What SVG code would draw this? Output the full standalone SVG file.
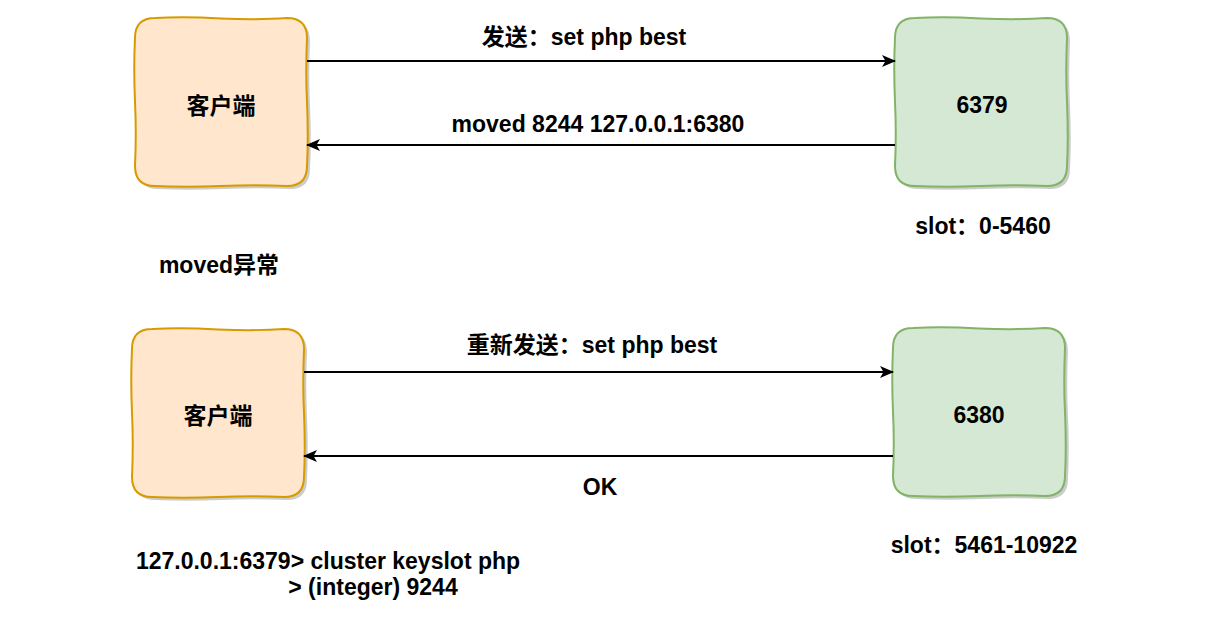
<svg xmlns="http://www.w3.org/2000/svg" width="1207" height="620" viewBox="0 0 1207 620">
<style>
.t{font-family:"Liberation Sans","Noto Sans CJK SC",sans-serif;font-weight:bold;font-size:23px;fill:#000;text-anchor:middle}
.client{fill:#ffe6cc;stroke:#d79b00;stroke-width:2}
.server{fill:#d5e8d4;stroke:#82b366;stroke-width:2}
.shadow{fill:#000;opacity:0.2;stroke:none}
.conn{stroke:#000;stroke-width:2;fill:none}
</style>
<defs>
<path id="box" d="M20,0 Q50,-1.5 86,0.5 Q125,2 152,0 Q172,0 172,20 Q170.5,55 172,84 Q173.5,120 172,148 Q172,168 152,168 Q120,166.5 86,168 Q50,169.5 20,168 Q0,168 0,148 Q1.5,115 0,84 Q-1.5,50 0,20 Q0,0 20,0 Z"/>
<marker id="arr" viewBox="0 0 14 12" refX="13" refY="6" markerWidth="14" markerHeight="12" markerUnits="userSpaceOnUse" orient="auto">
<path d="M0,0 L14,6 L0,12 L3.5,6 Z" fill="#000"/>
</marker>
</defs>
<rect width="1207" height="620" fill="#fff"/>
<g id="client1">
<use href="#box" class="shadow" x="138" y="21"/>
<use href="#box" class="client" x="135" y="18"/>
<text class="t" x="221" y="114">客户端</text>
</g>
<g id="server6379">
<use href="#box" class="shadow" x="898" y="21"/>
<use href="#box" class="server" x="895" y="18"/>
<text class="t" x="982" y="113">6379</text>
</g>
<g id="client2">
<use href="#box" class="shadow" x="135" y="332"/>
<use href="#box" class="client" x="132" y="329"/>
<text class="t" x="218" y="424">客户端</text>
</g>
<g id="server6380">
<use href="#box" class="shadow" x="896" y="331"/>
<use href="#box" class="server" x="893" y="328"/>
<text class="t" x="979" y="423">6380</text>
</g>
<g id="connectors">
<line class="conn" x1="307" y1="61" x2="895" y2="61" marker-end="url(#arr)"/>
<line class="conn" x1="895" y1="145" x2="307" y2="145" marker-end="url(#arr)"/>
<line class="conn" x1="304" y1="372" x2="893" y2="372" marker-end="url(#arr)"/>
<line class="conn" x1="893" y1="456" x2="304" y2="456" marker-end="url(#arr)"/>
</g>
<g id="labels">
<text class="t" x="584" y="45">发送：set php best</text>
<text class="t" x="598" y="132">moved 8244 127.0.0.1:6380</text>
<text class="t" x="983" y="234">slot：0-5460</text>
<text class="t" x="219" y="273">moved异常</text>
<text class="t" x="592" y="353">重新发送：set php best</text>
<text class="t" x="600" y="495">OK</text>
<text class="t" x="984" y="553">slot：5461-10922</text>
<text class="t" x="328" y="569">127.0.0.1:6379&gt; cluster keyslot php</text>
<text class="t" x="373" y="595">&gt; (integer) 9244</text>
</g>
</svg>
